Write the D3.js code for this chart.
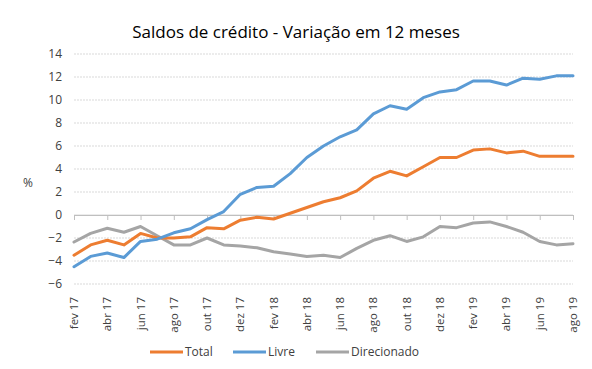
<!DOCTYPE html>
<html><head><meta charset="utf-8">
<script src="https://cdn.jsdelivr.net/npm/d3@7"></script>
<style>body{margin:0;background:#fff}</style>
</head><body><svg id="c" width="592" height="369"></svg>
<script>
const months = ["fev 17","mar 17","abr 17","mai 17","jun 17","jul 17","ago 17","set 17","out 17","nov 17","dez 17","jan 18","fev 18","mar 18","abr 18","mai 18","jun 18","jul 18","ago 18","set 18","out 18","nov 18","dez 18","jan 19","fev 19","mar 19","abr 19","mai 19","jun 19","jul 19","ago 19"];
const total = [-3.5,-2.6,-2.2,-2.6,-1.6,-2.0,-2.0,-1.9,-1.1,-1.2,-0.45,-0.2,-0.35,0.15,0.65,1.15,1.5,2.1,3.2,3.8,3.4,4.2,5.0,5.0,5.65,5.75,5.4,5.55,5.1,5.1,5.1];
const livre = [-4.5,-3.6,-3.3,-3.7,-2.3,-2.1,-1.55,-1.2,-0.4,0.3,1.8,2.4,2.5,3.6,5.0,6.0,6.8,7.4,8.8,9.5,9.2,10.2,10.7,10.9,11.65,11.65,11.3,11.9,11.8,12.1,12.1];
const direcionado = [-2.35,-1.6,-1.15,-1.5,-1.0,-1.8,-2.6,-2.6,-2.0,-2.6,-2.7,-2.85,-3.2,-3.4,-3.6,-3.5,-3.7,-2.9,-2.2,-1.8,-2.3,-1.9,-1.0,-1.1,-0.7,-0.6,-1.0,-1.5,-2.3,-2.6,-2.5];
const yTicks = [-6,-4,-2,0,2,4,6,8,10,12,14];
const seriesNames = ["Total","Livre","Direcionado"];
const seriesColors = ["#ED7D31","#5B9BD5","#A5A5A5"];
const title = "Saldos de crédito - Variação em 12 meses";

const svg = d3.select("#c");
const font = "'Open Sans', sans-serif";
const x = d3.scalePoint().domain(months).range([74, 573]);
const y = d3.scaleLinear().domain([-6, 14]).range([284, 54]);

// gridlines
svg.append("g").selectAll("line").data(yTicks).join("line")
  .attr("x1", 74).attr("x2", 573)
  .attr("y1", d => y(d)).attr("y2", d => y(d))
  .attr("stroke", "#d9d9d9").attr("stroke-width", 1)
  .attr("stroke-dasharray", d => d === 0 ? null : "2,1");

// y axis labels
const yAxis = d3.axisLeft(y).tickValues(yTicks).tickSize(0).tickPadding(0).tickFormat(d3.format("d"));
const ya = svg.append("g").attr("transform", "translate(62,0)").call(yAxis);
ya.select(".domain").remove();
ya.selectAll("text").attr("font-family", font).attr("font-size", 12).attr("fill", "#404040");

// x axis at zero
const xTickVals = months.filter((m, i) => i % 2 === 0);
const xAxis = d3.axisBottom(x).tickValues(xTickVals).tickSize(5).tickFormat("");
const xa = svg.append("g").attr("transform", `translate(0,${y(0)})`).call(xAxis);
xa.select(".domain").attr("stroke", "#bfbfbf");
xa.selectAll(".tick line").attr("stroke", "#bfbfbf");

// x labels at bottom
svg.append("g").selectAll("text").data(xTickVals).join("text")
  .attr("transform", d => `translate(${x(d)},297) rotate(-90)`)
  .attr("text-anchor", "end").attr("dy", "0.35em")
  .attr("font-family", font).attr("font-size", 11.5).attr("fill", "#404040")
  .text(d => d);

// % label
svg.append("text").attr("x", 28).attr("y", 187).attr("text-anchor", "middle")
  .attr("font-family", font).attr("font-size", 12).attr("fill", "#404040").text("%");

// lines
const data = [total, livre, direcionado];
const line = d3.line().x((d, i) => x(months[i])).y(d => y(d));
svg.append("g").selectAll("path").data([2,0,1]).join("path")
  .attr("d", k => line(data[k]))
  .attr("fill", "none").attr("stroke", k => seriesColors[k])
  .attr("stroke-width", 3).attr("stroke-linejoin", "round").attr("stroke-linecap", "round");

// title
svg.append("text").attr("x", 296).attr("y", 38).attr("text-anchor", "middle")
  .attr("font-family", font).attr("font-size", 17).attr("fill", "#000").text(title);

// legend
const legX = [150, 233, 316];
const lg = svg.append("g").selectAll("g").data(seriesNames).join("g")
  .attr("transform", (d, i) => `translate(${legX[i]},352)`);
lg.append("line").attr("x1", 0).attr("x2", 33).attr("y1", 0).attr("y2", 0)
  .attr("stroke", (d, i) => seriesColors[i]).attr("stroke-width", 3);
lg.append("text").attr("x", 35).attr("y", 0).attr("dy", "0.35em")
  .attr("font-family", font).attr("font-size", 12).attr("fill", "#404040").text(d => d);
</script></body></html>
